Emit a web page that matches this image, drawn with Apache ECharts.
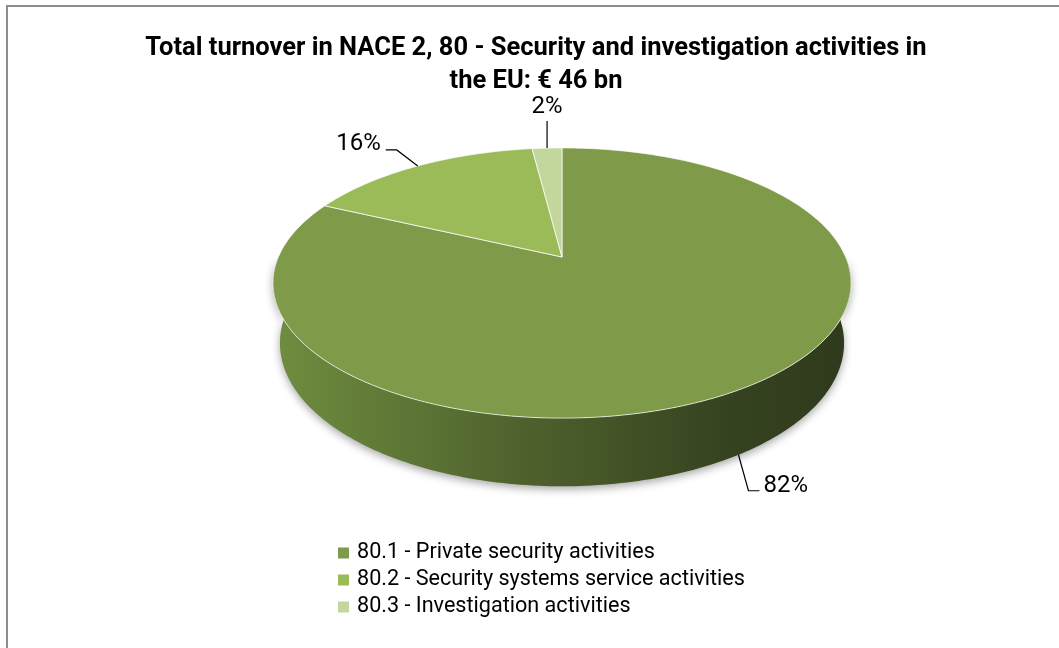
<!DOCTYPE html>
<html>
<head>
<meta charset="utf-8">
<script src="https://cdn.jsdelivr.net/npm/echarts@6/dist/echarts.min.js"></script>
<style>
  html, body { margin: 0; padding: 0; background: #ffffff; }
  #chart { width: 1059px; height: 648px; }
</style>
</head>
<body>
<div id="chart"></div>
<script>
// ---- data ----
const titleLines = [
  'Total turnover in NACE 2, 80 - Security and investigation activities in',
  'the EU: € 46 bn'
];
const categories = [
  '80.1 - Private security activities',
  '80.2 - Security systems service activities',
  '80.3 - Investigation activities'
];
const shares = [82, 16, 2];            // share of total turnover, %
const sliceColors = ['#7f9a48', '#9bbb59', '#c3d69b'];

// ---- 3D pie geometry (perspective view of a flat cylinder) ----
const view = { cx: 562, cy: 257, focal: 1309, dist: 4.615, tilt: 27.3, depth: 0.24 };
const sinT = Math.sin(view.tilt * Math.PI / 180);
const cosT = Math.cos(view.tilt * Math.PI / 180);

// phi: degrees clockwise from the far edge; level 0 = top face, 1 = bottom rim
function project(phi, level, radius) {
  const r = phi * Math.PI / 180;
  const k = radius === undefined ? 1 : radius;
  const X = k * Math.sin(r), Z = -k * Math.cos(r);
  const dy = -level * view.depth;
  const yc = dy * cosT - Z * sinT;
  const d = view.dist - dy * sinT - Z * cosT;
  return [view.cx + view.focal * X / d, view.cy - view.focal * yc / d];
}
function arcPoints(a, b, level) {
  const n = Math.max(2, Math.ceil(Math.abs(b - a)));
  const pts = [];
  for (let i = 0; i <= n; i++) pts.push(project(a + (b - a) * i / n, level));
  return pts;
}

const total = shares.reduce((s, v) => s + v, 0);
const sweeps = shares.map(v => v / total * 360);
const starts = [];
sweeps.reduce((acc, s, i) => { starts[i] = acc; return acc + s; }, 0);

// leader line bends (pixel offsets from the slice anchor) and text side
const leaders = [
  { bend: [[10, 36], [21, 36]], side: 'right' },
  { bend: [[-21, -16], [-32, -16]], side: 'left' },
  { bend: [[0, -27]], side: 'top' }
];

const labelFont = { fontFamily: 'Roboto', fontSize: 24 };

// side wall shading across the pie width
const leftX = project(259, 0)[0], rightX = project(101, 0)[0];
const wallFill = new echarts.graphic.LinearGradient(leftX, 0, rightX, 0, [
  { offset: 0, color: '#6f8d3f' },
  { offset: 0.45, color: '#4d602c' },
  { offset: 0.8, color: '#35421f' },
  { offset: 1, color: '#2f3a1c' }
], true);

function renderWall(params, api) {
  const i = params.dataIndex;
  const a = Math.max(starts[i], 90);
  const b = Math.min(starts[i] + sweeps[i], 270);
  if (b <= a) return { type: 'group', children: [] };
  const pts = arcPoints(a, b, 0).concat(arcPoints(b, a, 1));
  return {
    type: 'polygon',
    shape: { points: pts },
    style: {
      fill: wallFill,
      shadowBlur: 8,
      shadowOffsetY: 3,
      shadowColor: 'rgba(0,0,0,0.35)'
    }
  };
}

function makeTopRenderer(i) {
  return function (params, api) {
    const a = starts[i], b = starts[i] + sweeps[i];
    const center = project(0, 0, 0);
    const top = [center].concat(arcPoints(a, b, 0));
    const mid = a + sweeps[i] / 2;
    const front = mid > 90 && mid < 270;
    const anchor = project(mid, front ? 1 : 0);
    const pts = [anchor].concat(leaders[i].bend.map(o => [anchor[0] + o[0], anchor[1] + o[1]]));
    const end = pts[pts.length - 1];
    const side = leaders[i].side;
    let tx = end[0], ty = end[1], align = 'center', vAlign = 'middle';
    if (side === 'right') { tx += 4; ty -= 5; align = 'left'; }
    else if (side === 'left') { tx -= 5; ty -= 6; align = 'right'; }
    else { ty -= 2; vAlign = 'bottom'; }
    const value = api.value(0);
    return {
      type: 'group',
      children: [
        {
          type: 'polygon',
          shape: { points: top },
          style: { fill: sliceColors[i], stroke: 'rgba(255,255,255,0.7)', lineWidth: 1 }
        },
        {
          type: 'polyline',
          shape: { points: pts },
          style: { stroke: '#000000', lineWidth: 1.2, fill: null }
        },
        {
          type: 'text',
          style: Object.assign({
            text: Math.round(value / total * 100) + '%',
            x: tx, y: ty, align: align, verticalAlign: vAlign, fill: '#000000'
          }, labelFont)
        }
      ]
    };
  };
}

const series = [{
  type: 'custom',
  name: 'wall',
  coordinateSystem: 'none',
  z: 1,
  silent: true,
  data: shares.map(v => [v]),
  renderItem: renderWall
}];
categories.forEach((name, i) => {
  series.push({
    type: 'custom',
    name: name,
    coordinateSystem: 'none',
    z: 3,
    silent: true,
    itemStyle: { color: sliceColors[i] },
    data: [[shares[i]]],
    renderItem: makeTopRenderer(i)
  });
});

const chart = echarts.init(document.getElementById('chart'), null, { renderer: 'canvas' });
chart.setOption({
  animation: false,
  backgroundColor: '#ffffff',
  legend: {
    orient: 'vertical',
    left: 333,
    top: 537,
    icon: 'rect',
    itemWidth: 11,
    itemHeight: 11,
    itemGap: 5,
    selectedMode: false,
    data: categories,
    textStyle: { fontFamily: 'Roboto', fontSize: 21.6, lineHeight: 22, color: '#000000', padding: [0, 0, 0, 3] }
  },
  graphic: [
    {
      type: 'rect',
      silent: true,
      z: -10,
      shape: { x: 7, y: 6, width: 1100, height: 700 },
      style: { fill: null, stroke: '#8c8c8c', lineWidth: 2 }
    },
    {
      type: 'text',
      silent: true,
      x: 536,
      y: 32,
      style: {
        text: titleLines.join('\n'),
        align: 'center',
        verticalAlign: 'top',
        fontFamily: 'Roboto',
        fontWeight: 'bold',
        fontSize: 25.5,
        lineHeight: 33,
        fill: '#000000'
      }
    }
  ],
  series: series
});
</script>
</body>
</html>
